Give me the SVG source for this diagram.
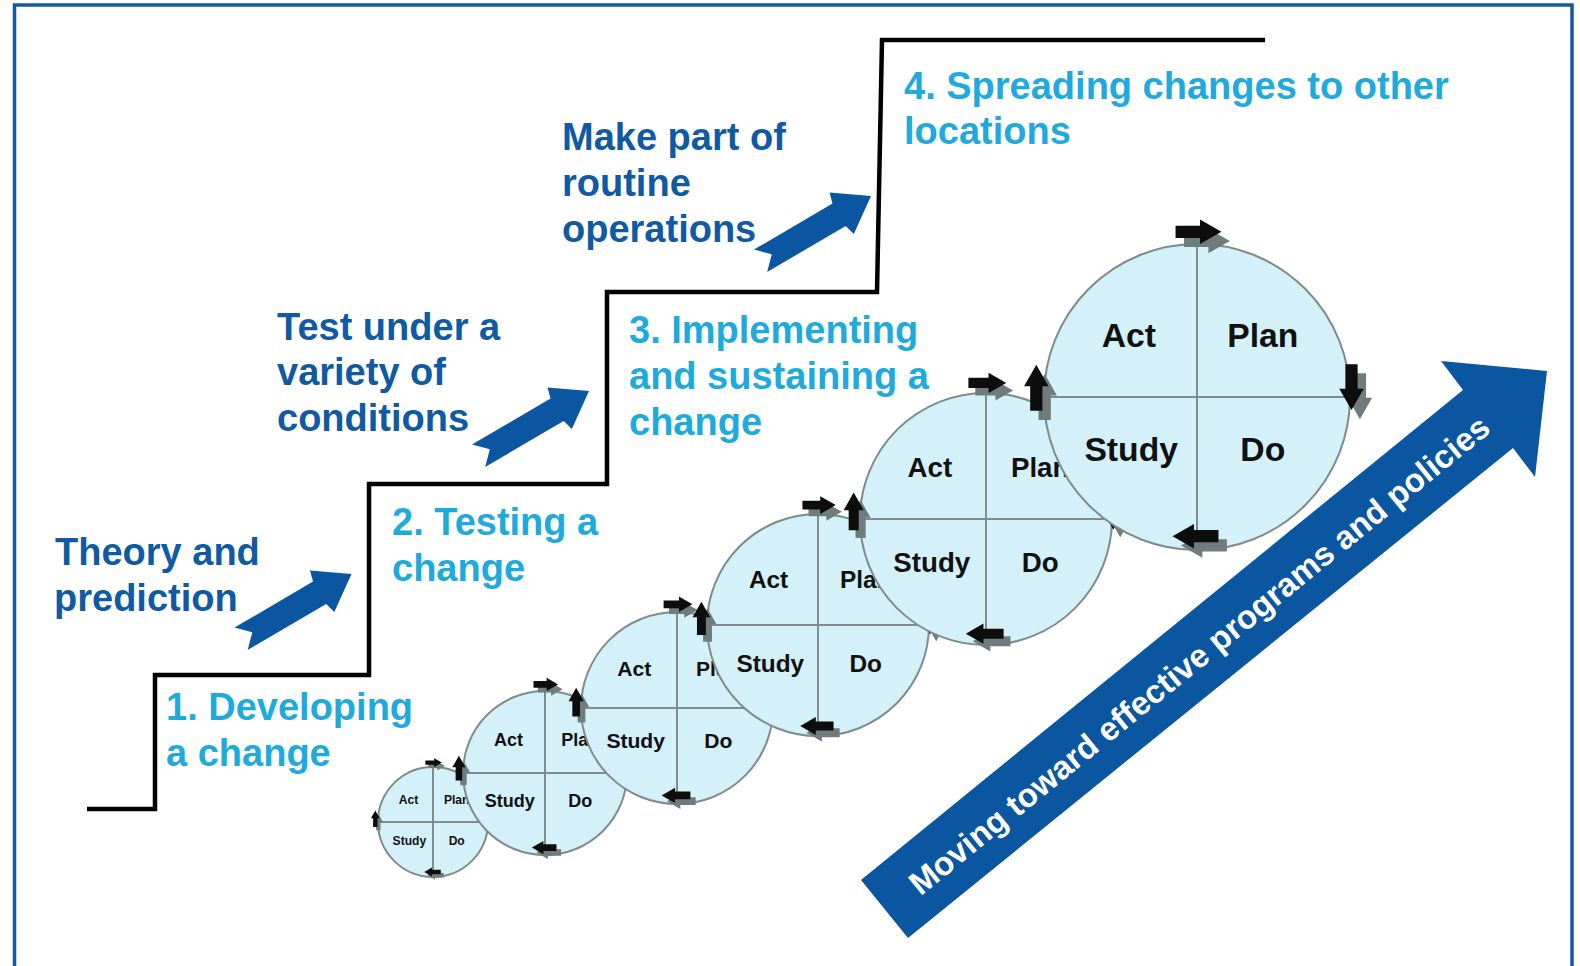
<svg xmlns="http://www.w3.org/2000/svg" width="1580" height="966" viewBox="0 0 1580 966">
  <style>
    .frame { fill: none; stroke: #14589f; stroke-width: 3.5; }
    .stair { fill: none; stroke: #000; stroke-width: 4.5; stroke-linejoin: miter; }
    .lbl { font-family: "Liberation Sans", Arial, sans-serif; font-weight: bold; font-size: 38px; }
    .dark { fill: #105aa4; }
    .cyan { fill: #1eaadc; }
    .ring { fill: #d4f0f8; stroke: #7f8b8c; stroke-width: 2; }
    .cross { fill: none; stroke: #7f8b8c; stroke-width: 2; }
    .q { font-family: "Liberation Sans", Arial, sans-serif; font-weight: bold; fill: #111; text-anchor: middle; }
    .blk { fill: #0d0d0d; }
    .sh { fill: #6f7c7d; }
    .step { fill: #0b56a0; }
    .big { fill: #0a56a0; }
    .bigtxt { font-family: "Liberation Sans", Arial, sans-serif; font-weight: bold; font-size: 33px; fill: #fff; text-anchor: middle; }
  </style>
  <defs>
    <!-- small block arrow for the PDSA cycle, drawn for a circle of radius 100 -->
    <path id="cyc" d="M-15,-4 H1 V-8 L15,0 L1,8 V4 H-15 Z"/>
    <!-- notched step arrow, tip at origin -->
    <path id="stepArrow" d="M0,0 L-34,-24 L-37,-13 L-128,-13 L-115,0 L-128,13 L-37,13 L-34,24 Z"/>
  </defs>

  <rect width="1580" height="966" fill="#fff"/>
  <rect id="frame" class="frame" x="14.5" y="5" width="1557.5" height="1000"/>

  <!-- staircase -->
  <g id="stairs">
    <polyline class="stair" points="87,809 155,809 155,675 369,675 369,484 607,484 607,292 877,292 882,40 1265,40"/>
  </g>

  <!-- stage labels -->
  <g id="label-theory" class="lbl dark">
    <text x="55" y="565">Theory and</text>
    <text x="54" y="611">prediction</text>
  </g>
  <g id="label-test" class="lbl dark">
    <text x="277" y="340">Test under a</text>
    <text x="277" y="385">variety of</text>
    <text x="277" y="431">conditions</text>
  </g>
  <g id="label-routine" class="lbl dark">
    <text x="562" y="150">Make part of</text>
    <text x="562" y="196">routine</text>
    <text x="562" y="242">operations</text>
  </g>
  <g id="stage-1" class="lbl cyan">
    <text x="166" y="720">1. Developing</text>
    <text x="166" y="766">a change</text>
  </g>
  <g id="stage-2" class="lbl cyan">
    <text x="392" y="535">2. Testing a</text>
    <text x="392" y="581">change</text>
  </g>
  <g id="stage-3" class="lbl cyan">
    <text x="629" y="343">3. Implementing</text>
    <text x="629" y="389">and sustaining a</text>
    <text x="629" y="435">change</text>
  </g>
  <g id="stage-4" class="lbl cyan">
    <text x="904" y="99">4. Spreading changes to other</text>
    <text x="904" y="144">locations</text>
  </g>

  <!-- step arrows -->
  <g id="connectors">
    <use href="#stepArrow" class="step" transform="translate(351.5,574) rotate(-30.4)"/>
    <use href="#stepArrow" class="step" transform="translate(589,391) rotate(-30.4)"/>
    <use href="#stepArrow" class="step" transform="translate(871,196) rotate(-30.4)"/>
  </g>

  <!-- PDSA cycles, smallest first -->
  <g id="cycle-1">
    <circle class="ring" cx="433" cy="822" r="55"/>
    <path class="cross" d="M378,822 H488 M433,767 V877"/>
    <g class="q" font-size="12.1">
      <text x="408.5" y="803.9">Act</text>
      <text x="456.7" y="803.9">Plan</text>
      <text x="409.4" y="845.1">Study</text>
      <text x="456.7" y="845.1">Do</text>
    </g>
    <use href="#cyc" class="sh" transform="translate(436.6,765.9) scale(0.55)"/>
    <use href="#cyc" class="blk" transform="translate(433.6,762.6) scale(0.55)"/>
    <use href="#cyc" class="sh" transform="translate(491.6,821.7) rotate(90) scale(0.55)"/>
    <use href="#cyc" class="blk" transform="translate(488.6,818.4) rotate(90) scale(0.55)"/>
    <use href="#cyc" class="sh" transform="translate(435.5,875.3) rotate(180) scale(0.55)"/>
    <use href="#cyc" class="blk" transform="translate(432.5,872) rotate(180) scale(0.55)"/>
    <use href="#cyc" class="sh" transform="translate(378.3,822) rotate(-90) scale(0.55)"/>
    <use href="#cyc" class="blk" transform="translate(375.3,818.7) rotate(-90) scale(0.55)"/>
  </g>

  <g id="cycle-2">
    <circle class="ring" cx="545" cy="773" r="82"/>
    <path class="cross" d="M463,773 H627 M545,691 V855"/>
    <g class="q" font-size="18">
      <text x="508.5" y="745.9">Act</text>
      <text x="580.3" y="745.9">Plan</text>
      <text x="509.7" y="807.4">Study</text>
      <text x="580.3" y="807.4">Do</text>
    </g>
    <use href="#cyc" class="sh" transform="translate(550.3,689.3) scale(0.82)"/>
    <use href="#cyc" class="blk" transform="translate(545.8,684.4) scale(0.82)"/>
    <use href="#cyc" class="sh" transform="translate(632.3,772.6) rotate(90) scale(0.82)"/>
    <use href="#cyc" class="blk" transform="translate(627.8,767.7) rotate(90) scale(0.82)"/>
    <use href="#cyc" class="sh" transform="translate(548.7,852.5) rotate(180) scale(0.82)"/>
    <use href="#cyc" class="blk" transform="translate(544.2,847.6) rotate(180) scale(0.82)"/>
    <use href="#cyc" class="sh" transform="translate(463.4,773) rotate(-90) scale(0.82)"/>
    <use href="#cyc" class="blk" transform="translate(458.9,768.1) rotate(-90) scale(0.82)"/>
  </g>

  <g id="cycle-3">
    <circle class="ring" cx="677" cy="708" r="96"/>
    <path class="cross" d="M581,708 H773 M677,612 V804"/>
    <g class="q" font-size="21.1">
      <text x="634.3" y="676.3">Act</text>
      <text x="718.3" y="676.3">Plan</text>
      <text x="635.7" y="748.3">Study</text>
      <text x="718.3" y="748.3">Do</text>
    </g>
    <use href="#cyc" class="sh" transform="translate(683.3,610.1) scale(0.96)"/>
    <use href="#cyc" class="blk" transform="translate(678,604.3) scale(0.96)"/>
    <use href="#cyc" class="sh" transform="translate(779.3,707.6) rotate(90) scale(0.96)"/>
    <use href="#cyc" class="blk" transform="translate(774,701.8) rotate(90) scale(0.96)"/>
    <use href="#cyc" class="sh" transform="translate(681.3,801.2) rotate(180) scale(0.96)"/>
    <use href="#cyc" class="blk" transform="translate(676,795.4) rotate(180) scale(0.96)"/>
    <use href="#cyc" class="sh" transform="translate(581.5,708) rotate(-90) scale(0.96)"/>
    <use href="#cyc" class="blk" transform="translate(576.2,702.2) rotate(-90) scale(0.96)"/>
  </g>

  <g id="cycle-4">
    <circle class="ring" cx="818" cy="625" r="111"/>
    <path class="cross" d="M707,625 H929 M818,514 V736"/>
    <g class="q" font-size="24.4">
      <text x="768.6" y="588.4">Act</text>
      <text x="865.7" y="588.4">Plan</text>
      <text x="770.3" y="671.6">Study</text>
      <text x="865.7" y="671.6">Do</text>
    </g>
    <use href="#cyc" class="sh" transform="translate(825.2,511.8) scale(1.11)"/>
    <use href="#cyc" class="blk" transform="translate(819.1,505.1) scale(1.11)"/>
    <use href="#cyc" class="sh" transform="translate(936.2,624.5) rotate(90) scale(1.11)"/>
    <use href="#cyc" class="blk" transform="translate(930.1,617.8) rotate(90) scale(1.11)"/>
    <use href="#cyc" class="sh" transform="translate(823,732.7) rotate(180) scale(1.11)"/>
    <use href="#cyc" class="blk" transform="translate(816.9,726) rotate(180) scale(1.11)"/>
    <use href="#cyc" class="sh" transform="translate(707.5,625) rotate(-90) scale(1.11)"/>
    <use href="#cyc" class="blk" transform="translate(701.4,618.3) rotate(-90) scale(1.11)"/>
  </g>

  <g id="cycle-5">
    <circle class="ring" cx="986" cy="519" r="126"/>
    <path class="cross" d="M860,519 H1112 M986,393 V645"/>
    <g class="q" font-size="27.7">
      <text x="929.9" y="477.4">Act</text>
      <text x="1040.2" y="477.4">Plan</text>
      <text x="931.8" y="571.9">Study</text>
      <text x="1040.2" y="571.9">Do</text>
    </g>
    <use href="#cyc" class="sh" transform="translate(994.2,390.5) scale(1.26)"/>
    <use href="#cyc" class="blk" transform="translate(987.3,382.9) scale(1.26)"/>
    <use href="#cyc" class="sh" transform="translate(1120.2,518.4) rotate(90) scale(1.26)"/>
    <use href="#cyc" class="blk" transform="translate(1113.3,510.8) rotate(90) scale(1.26)"/>
    <use href="#cyc" class="sh" transform="translate(991.6,641.3) rotate(180) scale(1.26)"/>
    <use href="#cyc" class="blk" transform="translate(984.7,633.7) rotate(180) scale(1.26)"/>
    <use href="#cyc" class="sh" transform="translate(860.6,519) rotate(-90) scale(1.26)"/>
    <use href="#cyc" class="blk" transform="translate(853.7,511.4) rotate(-90) scale(1.26)"/>
  </g>

  <g id="cycle-6">
    <circle class="ring" cx="1197" cy="397" r="153"/>
    <path class="cross" d="M1044,397 H1350 M1197,244 V550"/>
    <g class="q" font-size="33.7">
      <text x="1128.9" y="346.5">Act</text>
      <text x="1262.8" y="346.5">Plan</text>
      <text x="1131.2" y="461.3">Study</text>
      <text x="1262.8" y="461.3">Do</text>
    </g>
    <use href="#cyc" class="sh" transform="translate(1206.9,241) scale(1.53)"/>
    <use href="#cyc" class="blk" transform="translate(1198.5,231.8) scale(1.53)"/>
    <use href="#cyc" class="sh" transform="translate(1359.9,396.3) rotate(90) scale(1.53)"/>
    <use href="#cyc" class="blk" transform="translate(1351.5,387.1) rotate(90) scale(1.53)"/>
    <use href="#cyc" class="sh" transform="translate(1203.9,545.4) rotate(180) scale(1.53)"/>
    <use href="#cyc" class="blk" transform="translate(1195.5,536.2) rotate(180) scale(1.53)"/>
    <use href="#cyc" class="sh" transform="translate(1044.7,397) rotate(-90) scale(1.53)"/>
    <use href="#cyc" class="blk" transform="translate(1036.3,387.8) rotate(-90) scale(1.53)"/>
  </g>

  <!-- progress arrow -->
  <g id="progress-arrow">
    <polygon class="big" points="861,880 1463,390 1441,361 1547,371 1535,477 1513,448 908,938"/>
    <text class="bigtxt" transform="translate(1199,655) rotate(-39.14)" y="11.5">Moving toward effective programs and policies</text>
  </g>
</svg>
